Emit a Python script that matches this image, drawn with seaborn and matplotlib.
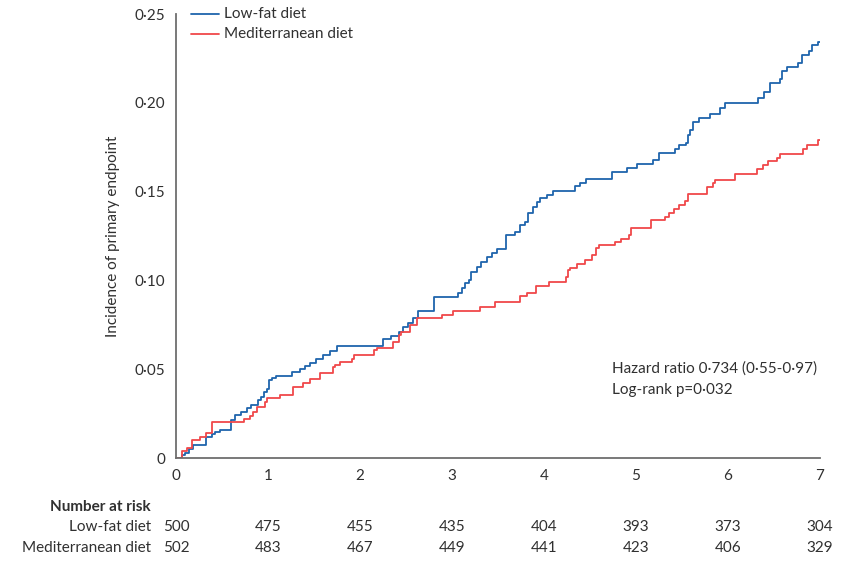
import matplotlib
matplotlib.use("Agg")
import matplotlib.pyplot as plt
import seaborn as sns
import pandas as pd

# Follow-up time (years) and cumulative incidence after each event
lowfat_time = [0.00, 0.06, 0.10, 0.14, 0.19, 0.33, 0.39, 0.42, 0.48, 0.60, 0.64, 0.71,
               0.77, 0.82, 0.89, 0.92, 0.96, 0.99, 1.01, 1.04, 1.09, 1.26, 1.35, 1.40,
               1.46, 1.52, 1.60, 1.67, 1.75, 2.25, 2.34, 2.42, 2.47, 2.52, 2.58, 2.63,
               2.80, 3.07, 3.11, 3.14, 3.18, 3.21, 3.27, 3.32, 3.38, 3.43, 3.49, 3.59,
               3.68, 3.74, 3.79, 3.83, 3.88, 3.92, 3.96, 4.03, 4.10, 4.34, 4.39, 4.46,
               4.74, 4.90, 5.01, 5.19, 5.25, 5.42, 5.47, 5.54, 5.57, 5.59, 5.62, 5.68,
               5.80, 5.91, 5.97, 6.33, 6.39, 6.46, 6.56, 6.59, 6.64, 6.76, 6.80, 6.88,
               6.91, 6.98, 7.00]
lowfat_inc = [0.0000, 0.0017, 0.0030, 0.0050, 0.0073, 0.0120, 0.0133, 0.0148, 0.0160,
              0.0214, 0.0240, 0.0260, 0.0280, 0.0300, 0.0327, 0.0345, 0.0370, 0.0390,
              0.0440, 0.0450, 0.0462, 0.0486, 0.0500, 0.0518, 0.0537, 0.0556, 0.0580,
              0.0600, 0.0630, 0.0668, 0.0687, 0.0711, 0.0740, 0.0758, 0.0787, 0.0830,
              0.0905, 0.0927, 0.0956, 0.0984, 0.1002, 0.1050, 0.1074, 0.1105, 0.1133,
              0.1156, 0.1175, 0.1256, 0.1274, 0.1312, 0.1330, 0.1378, 0.1413, 0.1443,
              0.1462, 0.1480, 0.1505, 0.1532, 0.1550, 0.1569, 0.1612, 0.1631, 0.1655,
              0.1678, 0.1716, 0.1738, 0.1762, 0.1772, 0.1819, 0.1847, 0.1894, 0.1913,
              0.1937, 0.1969, 0.2001, 0.2025, 0.2062, 0.2113, 0.2132, 0.2181, 0.2200,
              0.2222, 0.2269, 0.2293, 0.2325, 0.2344, 0.2344]

med_time = [0.00, 0.06, 0.12, 0.17, 0.26, 0.33, 0.39, 0.74, 0.80, 0.84, 0.88, 0.97,
            0.99, 1.13, 1.27, 1.38, 1.46, 1.57, 1.71, 1.73, 1.78, 1.91, 1.93, 2.15,
            2.18, 2.36, 2.42, 2.45, 2.54, 2.62, 2.89, 3.01, 3.30, 3.47, 3.74, 3.81,
            3.91, 4.05, 4.24, 4.26, 4.28, 4.36, 4.45, 4.52, 4.57, 4.60, 4.77, 4.84,
            4.92, 4.95, 5.16, 5.32, 5.36, 5.41, 5.47, 5.53, 5.57, 5.77, 5.84, 5.86,
            6.08, 6.31, 6.38, 6.43, 6.53, 6.56, 6.81, 6.86, 6.98, 7.00]
med_inc = [0.0000, 0.0037, 0.0059, 0.0101, 0.0120, 0.0139, 0.0200, 0.0218, 0.0236,
           0.0261, 0.0289, 0.0317, 0.0336, 0.0355, 0.0400, 0.0420, 0.0443, 0.0477,
           0.0511, 0.0524, 0.0542, 0.0556, 0.0580, 0.0608, 0.0618, 0.0655, 0.0693,
           0.0711, 0.0749, 0.0787, 0.0805, 0.0828, 0.0852, 0.0880, 0.0910, 0.0929,
           0.0967, 0.0993, 0.1021, 0.1059, 0.1068, 0.1090, 0.1115, 0.1143, 0.1185,
           0.1199, 0.1218, 0.1231, 0.1256, 0.1297, 0.1340, 0.1359, 0.1381, 0.1400,
           0.1422, 0.1447, 0.1484, 0.1526, 0.1547, 0.1565, 0.1599, 0.1628, 0.1647,
           0.1671, 0.1692, 0.1713, 0.1740, 0.1762, 0.1790, 0.1790]

groups = ["Low-fat diet", "Mediterranean diet"]
palette = {"Low-fat diet": "#1f64ad", "Mediterranean diet": "#f0484a"}

risk_years = [0, 1, 2, 3, 4, 5, 6, 7]
risk_lowfat = [500, 475, 455, 435, 404, 393, 373, 304]
risk_med = [502, 483, 467, 449, 441, 423, 406, 329]

y_ticks = [0, 0.05, 0.10, 0.15, 0.20, 0.25]
y_ticklabels = ["0", "0·05", "0·10", "0·15", "0·20", "0·25"]

df = pd.concat([
    pd.DataFrame({"time": lowfat_time, "incidence": lowfat_inc, "group": groups[0]}),
    pd.DataFrame({"time": med_time, "incidence": med_inc, "group": groups[1]}),
], ignore_index=True)

sns.set_theme(style="white")
plt.rcParams["font.family"] = ["Lato", "DejaVu Sans"]
text_col = "#303030"
axis_col = "#6e6e6e"

fig = plt.figure(figsize=(8.46, 5.63), dpi=100)
ax = fig.add_axes([176 / 846, 105 / 563, 644 / 846, 444 / 563])

sns.lineplot(data=df, x="time", y="incidence", hue="group", hue_order=groups,
             palette=palette, estimator=None, sort=False, drawstyle="steps-post",
             linewidth=1.3, ax=ax, legend=False)

ax.set_xlim(0, 7)
ax.set_ylim(0, 0.25)
ax.set_xticks(risk_years)
ax.set_xticklabels([str(v) for v in risk_years])
ax.set_yticks(y_ticks)
ax.set_yticklabels(y_ticklabels)
ax.set_xlabel("")
ax.set_ylabel("Incidence of primary endpoint", fontsize=11, color=text_col, labelpad=10)

for side in ["top", "right"]:
    ax.spines[side].set_visible(False)
for side in ["left", "bottom"]:
    ax.spines[side].set_color(axis_col)
    ax.spines[side].set_linewidth(1.3)
ax.tick_params(axis="both", direction="out", length=6, width=1.2, color=axis_col,
               labelsize=11, labelcolor=text_col)
ax.tick_params(axis="x", pad=2)
ax.tick_params(axis="y", pad=2)

# Legend as short line samples beside the labels
for i, g in enumerate(groups):
    yl = 0.2502 - i * 0.0113
    ax.plot([0.16, 0.47], [yl, yl], color=palette[g], lw=1.3, clip_on=False)
    ax.text(0.52, yl, g, fontsize=11, color=text_col, va="center", ha="left")

ax.text(4.74, 0.0505, "Hazard ratio 0·734 (0·55-0·97)", fontsize=11,
        color=text_col, va="center", ha="left")
ax.text(4.74, 0.0382, "Log-rank p=0·032", fontsize=11,
        color=text_col, va="center", ha="left")

# Number-at-risk table beneath the axis
def fig_y(py):
    return 1 - py / 563

label_x = 151 / 846
fig.text(label_x, fig_y(507), "Number at risk", fontsize=11, fontweight="bold",
         color=text_col, ha="right", va="center")
for row, (name, counts) in enumerate([(groups[0], risk_lowfat), (groups[1], risk_med)]):
    yy = fig_y(527 + row * 21)
    fig.text(label_x, yy, name, fontsize=11, color=text_col, ha="right", va="center")
    for t, n in zip(risk_years, counts):
        ax.annotate(str(n), xy=(t, 0), xycoords="data",
                    xytext=(0, -(527 + row * 21 - 458) * 0.72), textcoords="offset points",
                    fontsize=11, color=text_col, ha="center", va="center",
                    annotation_clip=False)

fig.savefig("out.png", dpi=100)
